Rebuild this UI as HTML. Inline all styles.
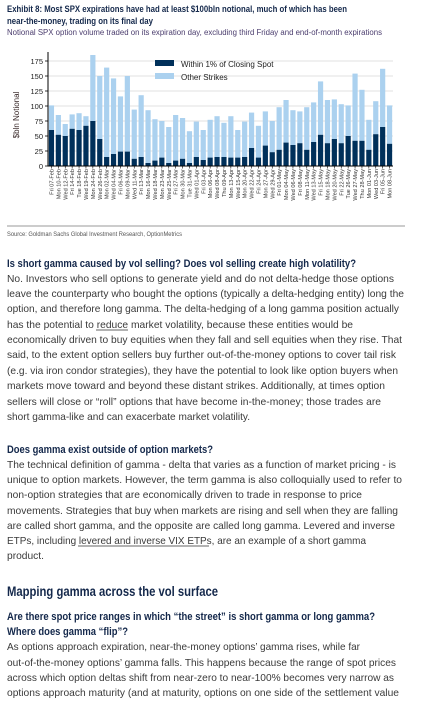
<!DOCTYPE html>
<html><head><meta charset="utf-8">
<style>
html,body{margin:0;padding:0;background:#fff;width:433px;height:701px;overflow:hidden}
svg{display:block}
.h{font-family:"Liberation Sans Narrow","Liberation Sans",sans-serif;font-weight:bold;fill:#14284b}
.b{font-family:"Liberation Sans",sans-serif;fill:#3a3a3a;font-size:10.5px}
.t{font-family:"Liberation Sans",sans-serif;fill:#333;font-size:8px}
</style></head>
<body>
<svg width="433" height="701" xmlns="http://www.w3.org/2000/svg">
<text class="h" x="7" y="12" font-size="9.5" textLength="340" lengthAdjust="spacingAndGlyphs">Exhibit 8: Most SPX expirations have had at least $100bln notional, much of which has been</text>
<text class="h" x="7" y="24" font-size="9.5" textLength="146" lengthAdjust="spacingAndGlyphs">near-the-money, trading on its final day</text>
<text x="7" y="35" font-size="8" fill="#4b3d6e" font-family="Liberation Sans Narrow, Liberation Sans, sans-serif" textLength="375" lengthAdjust="spacingAndGlyphs">Notional SPX option volume traded on its expiration day, excluding third Friday and end-of-month expirations</text>

<g id="chart"></g>

<line x1="7" y1="226" x2="405" y2="226" stroke="#777" stroke-width="0.8"/>
<text x="7" y="236" font-size="6.5" fill="#555" font-family="Liberation Sans Narrow, Liberation Sans, sans-serif" textLength="175" lengthAdjust="spacingAndGlyphs">Source: Goldman Sachs Global Investment Research, OptionMetrics</text>

<text class="h" x="7" y="267" font-size="11" textLength="349" lengthAdjust="spacingAndGlyphs">Is short gamma caused by vol selling? Does vol selling create high volatility?</text>
<g>
<text class="b" x="7" y="282" textLength="387" lengthAdjust="spacingAndGlyphs">No. Investors who sell options to generate yield and do not delta-hedge those options</text>
<text class="b" x="7" y="297" textLength="397" lengthAdjust="spacingAndGlyphs">leave the counterparty who bought the options (typically a delta-hedging entity) long the</text>
<text class="b" x="7" y="312" textLength="392" lengthAdjust="spacingAndGlyphs">option, and therefore long gamma. The delta-hedging of a long gamma position actually</text>
<text class="b" x="7" y="328" textLength="346" lengthAdjust="spacingAndGlyphs">has the potential to reduce market volatility, because these entities would be</text>
<line x1="96" y1="330" x2="128" y2="330" stroke="#333" stroke-width="0.7"/>
<text class="b" x="7" y="343" textLength="395" lengthAdjust="spacingAndGlyphs">economically driven to buy equities when they fall and sell equities when they rise. That</text>
<text class="b" x="7" y="358" textLength="389" lengthAdjust="spacingAndGlyphs">said, to the extent option sellers buy further out-of-the-money options to cover tail risk</text>
<text class="b" x="7" y="374" textLength="391" lengthAdjust="spacingAndGlyphs">(e.g. via iron condor strategies), they have the potential to look like option buyers when</text>
<text class="b" x="7" y="389" textLength="378" lengthAdjust="spacingAndGlyphs">markets move toward and beyond these distant strikes. Additionally, at times option</text>
<text class="b" x="7" y="405" textLength="374" lengthAdjust="spacingAndGlyphs">sellers will close or “roll” options that have become in-the-money; those trades are</text>
<text class="b" x="7" y="420" textLength="243" lengthAdjust="spacingAndGlyphs">short gamma-like and can exacerbate market volatility.</text>
</g>

<text class="h" x="7" y="453" font-size="11" textLength="206" lengthAdjust="spacingAndGlyphs">Does gamma exist outside of option markets?</text>
<g>
<text class="b" x="7" y="468" textLength="389" lengthAdjust="spacingAndGlyphs">The technical definition of gamma - delta that varies as a function of market pricing - is</text>
<text class="b" x="7" y="483" textLength="395" lengthAdjust="spacingAndGlyphs">unique to option markets. However, the term gamma is also colloquially used to refer to</text>
<text class="b" x="7" y="498" textLength="355" lengthAdjust="spacingAndGlyphs">non-option strategies that are economically driven to trade in response to price</text>
<text class="b" x="7" y="514" textLength="391" lengthAdjust="spacingAndGlyphs">movements. Strategies that buy when markets are rising and sell when they are falling</text>
<text class="b" x="7" y="529" textLength="388" lengthAdjust="spacingAndGlyphs">are called short gamma, and the opposite are called long gamma. Levered and inverse</text>
<text class="b" x="7" y="544" textLength="359" lengthAdjust="spacingAndGlyphs">ETPs, including levered and inverse VIX ETPs, are an example of a short gamma</text>
<line x1="78" y1="546" x2="209" y2="546" stroke="#333" stroke-width="0.7"/>
<text class="b" x="7" y="559" textLength="37" lengthAdjust="spacingAndGlyphs">product.</text>
</g>

<text class="h" x="7" y="596" font-size="14" textLength="211" lengthAdjust="spacingAndGlyphs">Mapping gamma across the vol surface</text>
<text class="h" x="7" y="620" font-size="11" textLength="368" lengthAdjust="spacingAndGlyphs">Are there spot price ranges in which “the street” is short gamma or long gamma?</text>
<text class="h" x="7" y="635" font-size="11" textLength="121" lengthAdjust="spacingAndGlyphs">Where does gamma “flip”?</text>
<g>
<text class="b" x="7" y="650" textLength="353" lengthAdjust="spacingAndGlyphs">As options approach expiration, near-the-money options’ gamma rises, while far</text>
<text class="b" x="7" y="666" textLength="389" lengthAdjust="spacingAndGlyphs">out-of-the-money options’ gamma falls. This happens because the range of spot prices</text>
<text class="b" x="7" y="681" textLength="387" lengthAdjust="spacingAndGlyphs">across which option deltas shift from near-zero to near-100% becomes very narrow as</text>
<text class="b" x="7" y="696" textLength="392" lengthAdjust="spacingAndGlyphs">options approach maturity (and at maturity, options on one side of the settlement value</text>
</g>
</svg>
<script>
const categories=["Fri 07-Feb","Mon 10-Feb","Wed 12-Feb","Fri 14-Feb","Tue 18-Feb","Wed 19-Feb","Mon 24-Feb","Wed 26-Feb","Mon 02-Mar","Wed 04-Mar","Fri 06-Mar","Mon 09-Mar","Wed 11-Mar","Fri 13-Mar","Mon 16-Mar","Wed 18-Mar","Mon 23-Mar","Wed 25-Mar","Fri 27-Mar","Mon 30-Mar","Tue 31-Mar","Wed 01-Apr","Fri 03-Apr","Mon 06-Apr","Wed 08-Apr","Thu 09-Apr","Mon 13-Apr","Wed 15-Apr","Mon 20-Apr","Wed 22-Apr","Fri 24-Apr","Mon 27-Apr","Wed 29-Apr","Fri 01-May","Mon 04-May","Wed 06-May","Fri 08-May","Mon 11-May","Wed 13-May","Fri 15-May","Mon 18-May","Wed 20-May","Fri 22-May","Tue 26-May","Wed 27-May","Thu 28-May","Mon 01-Jun","Wed 03-Jun","Fri 05-Jun","Mon 08-Jun"];
const totalValues=[101,85,70,86,88,83,185,150,164,146,116,150,94,118,93,78,75,65,85,80,58,74,60,77,83,72,83,60,74,89,67,91,75,98,110,93,91,98,106,141,110,111,103,101,154,127,77,108,162,101];
const withinValues=[60,52,50,62,60,67,75,45,15,20,24,24,12,15,5,9,14,5,9,12,5,15,10,14,15,15,14,14,15,30,14,34,23,27,39,35,38,27,40,52,38,45,38,50,42,42,27,53,65,37];
const yTicks=[0,25,50,75,100,125,150,175];
const legendLabels=["Within 1% of Closing Spot","Other Strikes"];

const NS="http://www.w3.org/2000/svg";
const g=document.getElementById('chart');
const X0=48,X1=393,Y0=166,YMAX=175,Y175=61;
const y=v=>Y0-(v/YMAX)*(Y0-Y175);
const step=(X1-X0)/categories.length;
const x=i=>X0+step*i+step/2;
function mk(tag,at){const e=document.createElementNS(NS,tag);for(const k in at)e.setAttribute(k,at[k]);g.appendChild(e);return e;}
yTicks.forEach(t=>{
  const l=mk('line',{x1:X0,x2:X1,y1:y(t),y2:y(t),stroke:'#d6d6d6','stroke-width':0.8});
  
  
  const tx=mk('text',{x:43,y:y(t)+3,'text-anchor':'end','font-size':7.5,fill:'#222','font-family':'Liberation Sans, sans-serif'});
  tx.textContent=t;
  
  
  const tk=mk('line',{x1:X0-3,x2:X0,y1:y(t),y2:y(t),stroke:'#000','stroke-width':0.8});
  
  
});
categories.forEach((c,i)=>{
  const bw=5.2;
  const r1=mk('rect',{x:x(i)-bw/2,y:y(totalValues[i]),width:bw,height:y(withinValues[i])-y(totalValues[i]),fill:'#abd1ef'});
  
  
  const r2=mk('rect',{x:x(i)-bw/2,y:y(withinValues[i]),width:bw,height:Y0-y(withinValues[i]),fill:'#00305a'});
  
  
  const tk=mk('line',{x1:x(i),x2:x(i),y1:Y0,y2:Y0+2.5,stroke:'#000','stroke-width':0.6});
  
  
  const t=mk('text',{x:0,y:0,'text-anchor':'end','font-size':5.6,fill:'#333','font-family':'Liberation Sans Narrow, Liberation Sans, sans-serif',transform:`translate(${x(i)+2},169) rotate(-90)`});
  t.textContent=c;
  
  
});
const ax=mk('path',{d:`M${X0},52 V${Y0} H${X1}`,fill:'none',stroke:'#000','stroke-width':1});


const yt=mk('text',{x:0,y:0,'text-anchor':'middle','font-size':8,fill:'#3a2a2a','font-family':'Liberation Sans, sans-serif',transform:'translate(19,115) rotate(-90)'});
yt.textContent='$bln Notional';


const cols=['#00305a','#abd1ef'];
legendLabels.forEach((l,i)=>{
  const r=mk('rect',{x:155,y:60+i*13,width:19,height:6,fill:cols[i]});
  
  
  const t=mk('text',{x:181,y:67+i*13,'font-size':8,fill:'#222','font-family':'Liberation Sans, sans-serif'});
  t.textContent=l;
  
  
});
</script>
</body></html>
